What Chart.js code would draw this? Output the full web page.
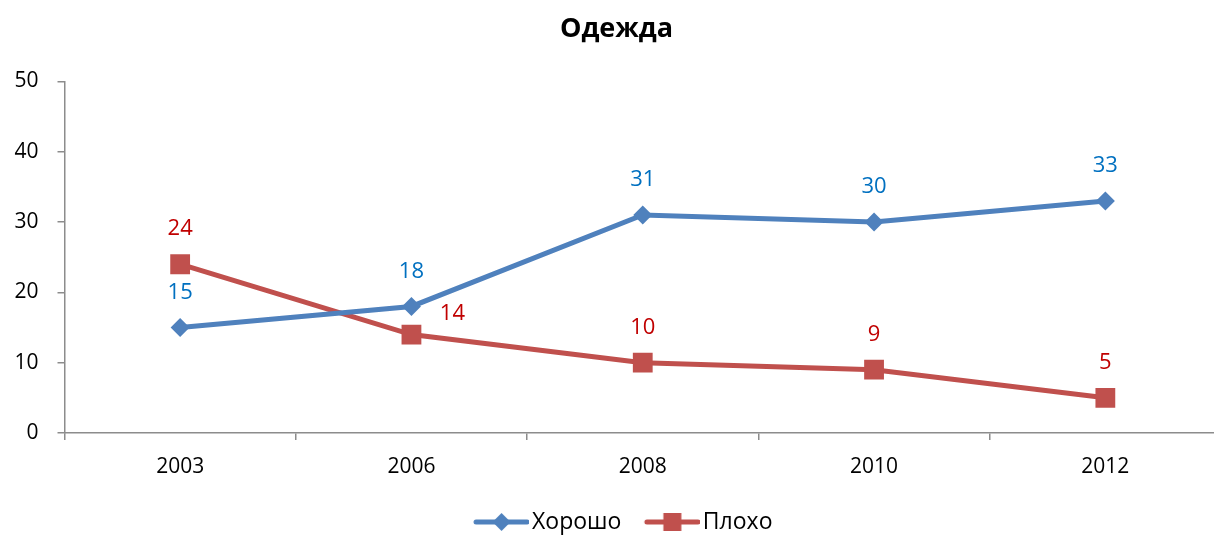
<!DOCTYPE html>
<html>
<head>
<meta charset="utf-8">
<script src="https://cdn.jsdelivr.net/npm/chart.js@4.4.1/dist/chart.umd.min.js"></script>
<style>
    html, body { margin: 0; padding: 0; background: #fff; overflow: hidden; }
</style>
</head>
<body>
<!-- the plot runs a few pixels past the right edge of the window, as in the source -->
<canvas id="canvas" width="1222" height="535"></canvas>
<script>
const years = ['2003', '2006', '2008', '2010', '2012'];
const good = [15, 18, 31, 30, 33];
const bad = [24, 14, 10, 9, 5];
const seriesNames = ['Хорошо', 'Плохо'];
const yMin = 0;
const yMax = 50;
const yStep = 10;

// where each "Плохо" value label sits relative to its point
const badLabelSide = ['top', 'right', 'top', 'top', 'top'];

const FONT = '"Open Sans", "Noto Sans", sans-serif';
const BLUE = '#4F81BD';
const RED = '#C0504D';
const AXIS = '#8c8c8c';

function makeIcon(color, style) {
    // line with marker, drawn into the right part of a wider transparent canvas
    let c = document.createElement('canvas');
    c.width = 77;
    c.height = 24;
    let g = c.getContext('2d');
    let x0 = 22, x1 = 77, cy = 12, cx = (x0 + x1) / 2;
    g.strokeStyle = color;
    g.lineWidth = 5;
    g.lineCap = 'round';
    g.beginPath();
    g.moveTo(x0 + 2, cy);
    g.lineTo(x1 - 2, cy);
    g.stroke();
    g.fillStyle = color;
    g.beginPath();
    if (style === 'diamond') {
        g.moveTo(cx, cy - 9);
        g.lineTo(cx + 9, cy);
        g.lineTo(cx, cy + 9);
        g.lineTo(cx - 9, cy);
        g.closePath();
    } else {
        g.rect(cx - 9, cy - 9, 18, 18);
    }
    g.fill();
    return c;
}

const icons = [makeIcon(BLUE, 'diamond'), makeIcon(RED, 'square')];

const pointLabels = {
    id: 'pointLabels',
    afterDatasetsDraw(chart) {
        const ctx = chart.ctx;
        ctx.save();
        ctx.font = '22px ' + FONT;
        ctx.textAlign = 'center';
        ctx.textBaseline = 'middle';
        chart.data.datasets.forEach((ds, di) => {
            const meta = chart.getDatasetMeta(di);
            meta.data.forEach((pt, i) => {
                let side = ds.labelSide ? ds.labelSide[i] : 'top';
                let x = pt.x, y = pt.y - 35;
                if (side === 'right') {
                    x = pt.x + 41;
                    y = pt.y - 21;
                }
                ctx.fillStyle = ds.labelColor;
                ctx.fillText(String(ds.data[i]), x, y);
            });
        });
        ctx.restore();
    }
};

new Chart(document.getElementById('canvas'), {
    type: 'line',
    data: {
        labels: years,
        datasets: [{
            label: seriesNames[0],
            data: good,
            borderColor: BLUE,
            backgroundColor: BLUE,
            borderWidth: 5,
            pointStyle: 'rectRot',
            pointRadius: 9.5,
            pointBorderWidth: 0,
            tension: 0,
            labelColor: '#0070C0'
        }, {
            label: seriesNames[1],
            data: bad,
            borderColor: RED,
            backgroundColor: RED,
            borderWidth: 5,
            pointStyle: 'rect',
            pointRadius: 14,
            pointBorderWidth: 0,
            tension: 0,
            labelColor: '#C00000',
            labelSide: badLabelSide
        }]
    },
    options: {
        responsive: false,
        devicePixelRatio: 1,
        animation: false,
        events: [],
        layout: { autoPadding: false, padding: { left: 12, right: 1, top: 0, bottom: -8.5 } },
        plugins: {
            title: {
                display: true,
                text: 'Одежда',
                color: '#000',
                font: { family: FONT, size: 27, weight: 'bold' },
                padding: { top: 13, bottom: 36 }
            },
            legend: {
                position: 'bottom',
                labels: {
                    color: '#000',
                    font: { family: FONT, size: 23 },
                    usePointStyle: true,
                    pointStyleWidth: 60,
                    padding: 10,
                    generateLabels: chart => chart.data.datasets.map((ds, i) => ({
                        text: ds.label,
                        pointStyle: icons[i],
                        fillStyle: ds.borderColor,
                        strokeStyle: ds.borderColor,
                        lineWidth: 0,
                        datasetIndex: i,
                        hidden: false
                    }))
                }
            },
            tooltip: { enabled: false }
        },
        scales: {
            x: {
                offset: true,
                grid: { display: true, drawOnChartArea: false, drawTicks: true, tickLength: 7, color: AXIS, lineWidth: 1.5, offset: true },
                border: { color: AXIS, width: 1.5 },
                ticks: { color: '#000', font: { family: FONT, size: 21 }, padding: 14, maxRotation: 0 },
                afterFit: scale => {
                    scale.height = 67.5;
                    scale.paddingLeft = 0;
                    scale.paddingRight = 0;
                }
            },
            y: {
                min: yMin,
                max: yMax,
                grid: { display: true, drawOnChartArea: false, drawTicks: true, tickLength: 7, color: AXIS, lineWidth: 1.5 },
                border: { color: AXIS, width: 1.5 },
                ticks: { stepSize: yStep, color: '#000', font: { family: FONT, size: 21 }, padding: 19 },
                afterFit: scale => { scale.width = 52.5; }
            }
        }
    },
    plugins: [pointLabels]
});
</script>
</body>
</html>
